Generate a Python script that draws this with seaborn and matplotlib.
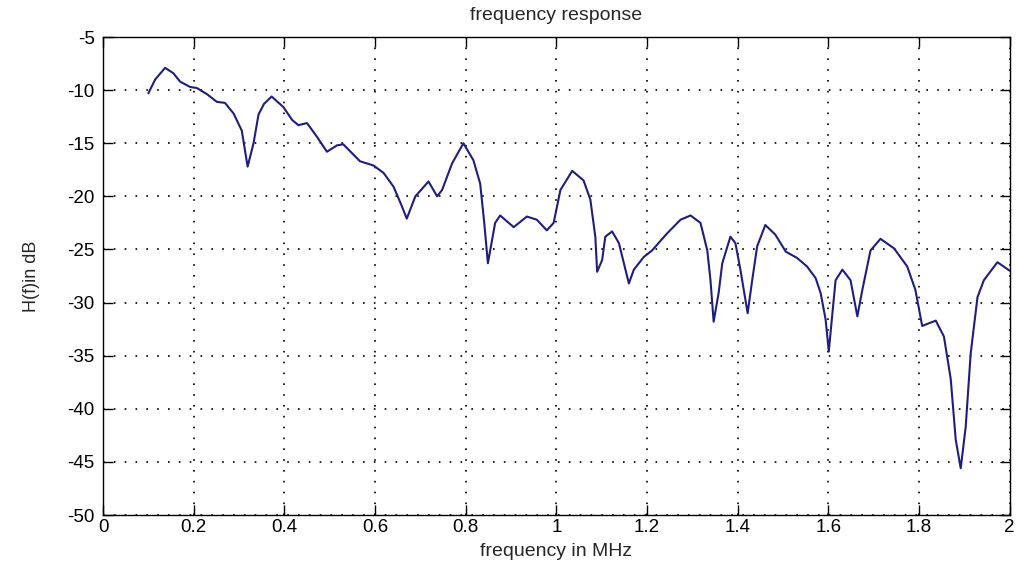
import matplotlib
matplotlib.use("Agg")
import matplotlib.pyplot as plt
import seaborn as sns
import pandas as pd

freq_mhz = [0.100, 0.115, 0.137, 0.155, 0.170, 0.192, 0.207, 0.230, 0.251, 0.269,
            0.288, 0.306, 0.319, 0.332, 0.343, 0.355, 0.372, 0.398, 0.417, 0.431,
            0.450, 0.472, 0.494, 0.516, 0.530, 0.567, 0.597, 0.619, 0.641, 0.658,
            0.670, 0.689, 0.718, 0.737, 0.748, 0.770, 0.795, 0.817, 0.832, 0.841,
            0.849, 0.865, 0.876, 0.906, 0.935, 0.957, 0.979, 0.994, 1.009, 1.035,
            1.060, 1.075, 1.086, 1.090, 1.101, 1.108, 1.123, 1.138, 1.160, 1.171,
            1.193, 1.211, 1.244, 1.274, 1.296, 1.318, 1.333, 1.340, 1.347, 1.358,
            1.366, 1.384, 1.395, 1.406, 1.422, 1.432, 1.443, 1.461, 1.483, 1.506,
            1.531, 1.553, 1.572, 1.583, 1.594, 1.601, 1.609, 1.616, 1.631, 1.649,
            1.664, 1.675, 1.693, 1.715, 1.745, 1.774, 1.792, 1.807, 1.837, 1.855,
            1.870, 1.881, 1.892, 1.903, 1.914, 1.929, 1.943, 1.973, 2.000]
gain_db = [-10.3, -9.0, -7.9, -8.4, -9.2, -9.7, -9.8, -10.4, -11.1, -11.2,
           -12.2, -13.8, -17.2, -15.0, -12.3, -11.3, -10.6, -11.6, -12.8, -13.3,
           -13.1, -14.4, -15.8, -15.2, -15.1, -16.7, -17.1, -17.8, -19.1, -20.8,
           -22.1, -20.0, -18.6, -20.0, -19.4, -16.9, -15.0, -16.6, -18.8, -22.5,
           -26.3, -22.5, -21.8, -22.9, -21.9, -22.2, -23.2, -22.5, -19.4, -17.6,
           -18.5, -20.3, -23.8, -27.1, -26.0, -23.8, -23.3, -24.4, -28.2, -26.9,
           -25.7, -25.1, -23.5, -22.2, -21.8, -22.5, -25.1, -27.9, -31.8, -29.1,
           -26.3, -23.8, -24.4, -26.9, -31.0, -27.9, -24.7, -22.7, -23.6, -25.2,
           -25.8, -26.6, -27.7, -29.1, -31.6, -34.6, -31.0, -27.9, -26.9, -27.9,
           -31.3, -28.8, -25.1, -24.0, -24.9, -26.6, -28.8, -32.2, -31.7, -33.2,
           -37.2, -42.9, -45.6, -41.7, -34.8, -29.5, -27.9, -26.2, -27.0]

x_ticks = [0, 0.2, 0.4, 0.6, 0.8, 1, 1.2, 1.4, 1.6, 1.8, 2]
x_tick_labels = ["0", "0.2", "0.4", "0.6", "0.8", "1", "1.2", "1.4", "1.6", "1.8", "2"]
y_ticks = [-50, -45, -40, -35, -30, -25, -20, -15, -10, -5]

sns.set_theme(style="white")
plt.rcParams['font.family'] = ['Liberation Sans', 'DejaVu Sans']
plt.rcParams['axes.unicode_minus'] = False

df = pd.DataFrame({"f": freq_mhz, "h": gain_db})

fig = plt.figure(figsize=(10.21, 5.67), dpi=100)
ax = fig.add_axes([0.1009, 0.0917, 0.8880, 0.8430])
sns.lineplot(data=df, x="f", y="h", ax=ax, color="#1e1e80", linewidth=1.5, sort=False)

ax.set_xlim(0, 2)
ax.set_ylim(-50, -5)
ax.set_xticks(x_ticks)
ax.set_xticklabels(x_tick_labels)
ax.set_yticks(y_ticks)
ax.tick_params(direction="in", length=7, width=1, colors="black", labelsize=13.5,
               top=True, right=True, bottom=True, left=True, pad=6)
ax.tick_params(axis="x", pad=3)
ax.grid(True, linestyle=(0, (1, 5.5)), color="black", linewidth=1.2)
for s in ax.spines.values():
    s.set_visible(True)
    s.set_color("black")
    s.set_linewidth(1.0)
ax.set_xlabel("frequency in MHz", fontsize=14, labelpad=5)
ax.set_ylabel("H(f)in dB", fontsize=13, labelpad=20)
ax.set_title("frequency response", fontsize=14, pad=12)

fig.savefig("out.png", dpi=100)
